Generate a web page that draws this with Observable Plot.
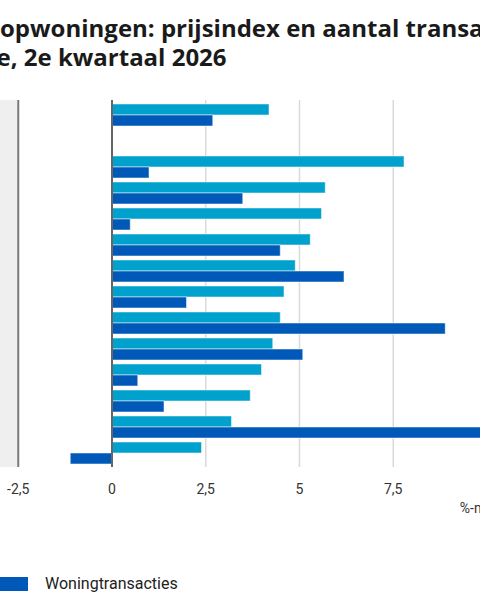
<!DOCTYPE html>
<html lang="nl">
<head>
<meta charset="utf-8">
<script src="https://cdn.jsdelivr.net/npm/d3@7"></script>
<script src="https://cdn.jsdelivr.net/npm/@observablehq/plot@0.6"></script>
<style>
  html, body { margin: 0; padding: 0; background: #fff; width: 480px; height: 600px; overflow: hidden; }
  body { position: relative; font-family: Roboto, "Noto Sans", sans-serif; color: #1a1a1a; }
  #title { position: absolute; top: 13px; left: 0; white-space: nowrap; font-family: "Open Sans", Roboto, sans-serif; font-weight: 700; font-size: 24px; line-height: 29px; color: #1a1a1a; }
  #chart { position: absolute; top: 80px; left: -1px; width: 525px; }
  #chart svg { max-width: none !important; }
  #legend { position: absolute; top: 574px; left: 0; display: flex; align-items: center; white-space: nowrap; font-size: 16px; color: #222; }
  #legend .sw { display: inline-block; width: 36px; height: 14px; margin-right: 17px; }
  #legend .item { display: flex; align-items: center; margin-right: 30px; }
</style>
</head>
<body>
<div id="title"><span id="lead">Bestaande ko</span>opwoningen: prijsindex en aantal transacties<br>naar provincie, 2e kwartaal 2026</div>
<div id="chart"></div>
<div id="legend"></div>
<script>
// Regions, top to bottom (Nederland first, then the provinces)
const regions = [
  "Nederland",
  "Groningen", "Friesland", "Drenthe", "Flevoland", "Overijssel", "Limburg",
  "Zeeland", "Gelderland", "Noord-Brabant", "Zuid-Holland", "Utrecht", "Noord-Holland"
];
// Change compared with the same quarter a year earlier (%)
const prijsindex = [4.2, 7.8, 5.7, 5.6, 5.3, 4.9, 4.6, 4.5, 4.3, 4.0, 3.7, 3.2, 2.4];
const transacties = [2.7, 1.0, 3.5, 0.5, 4.5, 6.2, 2.0, 8.9, 5.1, 0.7, 1.4, 10.4, -1.1];
const xTicks = [-2.5, 0, 2.5, 5, 7.5, 10];
const seriesNames = ["Prijsindex bestaande koopwoningen", "Woningtransacties"];
const colors = ["#00a1cd", "#0058b8"];

// One band per bar; an empty spacer row separates Nederland from the provinces
const rowOrder = [regions[0], " ", ...regions.slice(1)];
const yKeys = rowOrder.flatMap(r => [r + "|p", r + "|t"]);
const rows = regions.map((r, i) => ({region: r, prijs: prijsindex[i], trans: transacties[i]}));

const nl = d => String(d).replace(".", ",");

const chart = Plot.plot({
  width: 525,
  height: 447,
  marginTop: 20,
  marginBottom: 60,
  marginLeft: 0,
  marginRight: 0,
  style: {fontFamily: "Roboto, 'Noto Sans', sans-serif", fontSize: "14px", color: "#333", background: "transparent"},
  x: {
    domain: [-3, 11],
    ticks: xTicks,
    tickFormat: nl,
    tickSize: 0,
    tickPadding: 17,
    label: "%-mutatie",
    labelAnchor: "right",
    labelArrow: "none",
    labelOffset: 45
  },
  y: {domain: yKeys, padding: 0, axis: null},
  marks: [
    // label column background
    Plot.rect([{}], {x1: -3, x2: -2.5, fill: "#efefef"}),
    Plot.gridX(xTicks.filter(t => t > 0), {stroke: "#dadada", strokeOpacity: 1, strokeWidth: 1.5}),
    Plot.ruleX([-2.5], {stroke: "#7a7a7a", strokeWidth: 2}),
    Plot.barX(rows, {
      x: "prijs", y: d => d.region + "|p",
      fill: colors[0], insetTop: 2,
      stroke: "#ffffff", strokeOpacity: 0.5, strokeWidth: 1
    }),
    Plot.barX(rows, {
      x: "trans", y: d => d.region + "|t",
      fill: colors[1], insetBottom: 2,
      stroke: "#ffffff", strokeOpacity: 0.5, strokeWidth: 1
    }),
    Plot.ruleX([0], {stroke: "#666", strokeWidth: 2})
  ]
});
document.getElementById("chart").append(chart);

// Legend
const legend = document.getElementById("legend");
seriesNames.forEach((name, i) => {
  const item = document.createElement("span");
  item.className = "item";
  const sw = document.createElement("span");
  sw.className = "sw";
  sw.style.background = colors[i];
  const label = document.createElement("span");
  label.textContent = name;
  item.append(sw, label);
  legend.append(item);
});

function place() {
  const lead = document.getElementById("lead");
  document.getElementById("title").style.left = (-lead.getBoundingClientRect().width) + "px";
  const second = legend.children[1];
  legend.style.left = "0px";
  const off = second.getBoundingClientRect().left;
  legend.style.left = (-off - 8) + "px";
}
place();
if (document.fonts && document.fonts.ready) document.fonts.ready.then(place);
</script>
</body>
</html>
